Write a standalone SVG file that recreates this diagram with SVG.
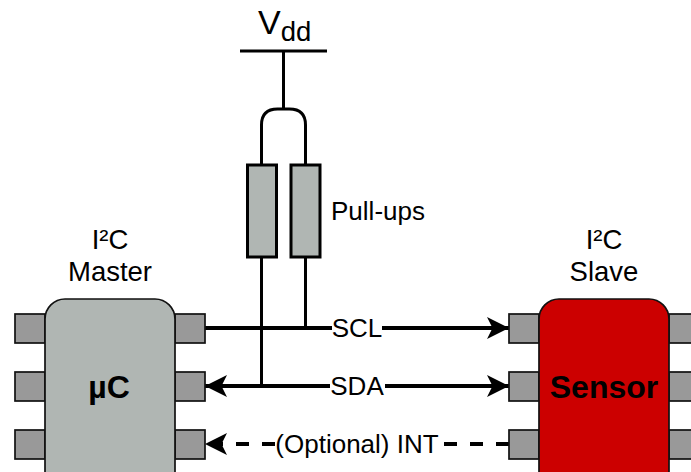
<svg xmlns="http://www.w3.org/2000/svg" width="691" height="472" viewBox="0 0 691 472">
<style>
text{font-family:"Liberation Sans",Arial,sans-serif;fill:#000;text-anchor:middle}
.l{font-size:26px}
.m{font-size:27.5px}
.b{font-size:32px;font-weight:bold}
.pin{fill:#999;stroke:#111;stroke-width:1.7}
.res{fill:#b0b6b3;stroke:#000;stroke-width:3}
.w{fill:none;stroke:#000;stroke-width:3}
.s{fill:none;stroke:#000;stroke-width:4}
.d{fill:none;stroke:#000;stroke-width:4;stroke-dasharray:13 13}
.lb{fill:#fff;stroke:none}
</style>
<defs>
<marker id="a" markerUnits="userSpaceOnUse" markerWidth="24" markerHeight="24" refX="22" refY="11" orient="auto-start-reverse" viewBox="0 0 24 22"><path d="M0 0L22 11L0 22L5.500 11Z" fill="#000"/></marker>
</defs>
<g id="connectors">
<path class="w" d="M240 51H327"/>
<path class="w" d="M283.500 51V109"/>
<path class="w" d="M261.500 165V125Q261.500 109 277.500 109H289.500Q305.500 109 305.500 125V165"/>
<path class="w" d="M261.500 257V386"/>
<path class="w" d="M305.500 257V328"/>
<path class="s" d="M205 328H509" marker-end="url(#a)"/>
<path class="s" d="M205 386H509" marker-start="url(#a)" marker-end="url(#a)"/>
<path class="d" d="M509 444H205" marker-end="url(#a)"/>
</g>
<g id="vdd"><text x="258" y="34" font-size="34" style="text-anchor:start">V<tspan font-size="27.500" dy="7">dd</tspan></text></g>
<g id="r1"><rect class="res" x="247.500" y="165" width="29" height="92"/></g>
<g id="r2"><rect class="res" x="291" y="165" width="29" height="92"/></g>
<g id="pullups"><text class="l" x="378" y="220">Pull-ups</text></g>
<g id="master">
<rect class="pin" x="15" y="314" width="30" height="29"/><rect class="pin" x="15" y="372" width="30" height="29"/><rect class="pin" x="15" y="430" width="30" height="29"/>
<rect class="pin" x="175" y="314" width="30" height="29"/><rect class="pin" x="175" y="372" width="30" height="29"/><rect class="pin" x="175" y="430" width="30" height="29"/>
<rect x="45" y="299" width="130" height="200" rx="20" fill="#b0b6b3" stroke="#111" stroke-width="1.700"/>
<text class="b" x="109" y="398">µC</text>
<text class="m" x="110" y="249">I²C</text><text class="m" x="110" y="281">Master</text>
</g>
<g id="slave">
<rect class="pin" x="509" y="314" width="30" height="29"/><rect class="pin" x="509" y="372" width="30" height="29"/><rect class="pin" x="509" y="430" width="30" height="29"/>
<rect class="pin" x="669" y="314" width="30" height="29"/><rect class="pin" x="669" y="372" width="30" height="29"/><rect class="pin" x="669" y="430" width="30" height="29"/>
<rect x="539" y="299" width="130" height="200" rx="20" fill="#cc0000" stroke="#111" stroke-width="1.700"/>
<text class="b" x="604" y="398">Sensor</text>
<text class="m" x="604" y="249">I²C</text><text class="m" x="604" y="281">Slave</text>
</g>
<g id="labels">
<rect class="lb" x="332" y="316" width="50" height="24"/><text class="l" x="357" y="337">SCL</text>
<rect class="lb" x="330" y="374" width="55" height="24"/><text class="l" x="357" y="395">SDA</text>
<rect class="lb" x="275" y="432" width="164" height="25"/><text class="l" x="357" y="453">(Optional) INT</text>
</g>
</svg>
